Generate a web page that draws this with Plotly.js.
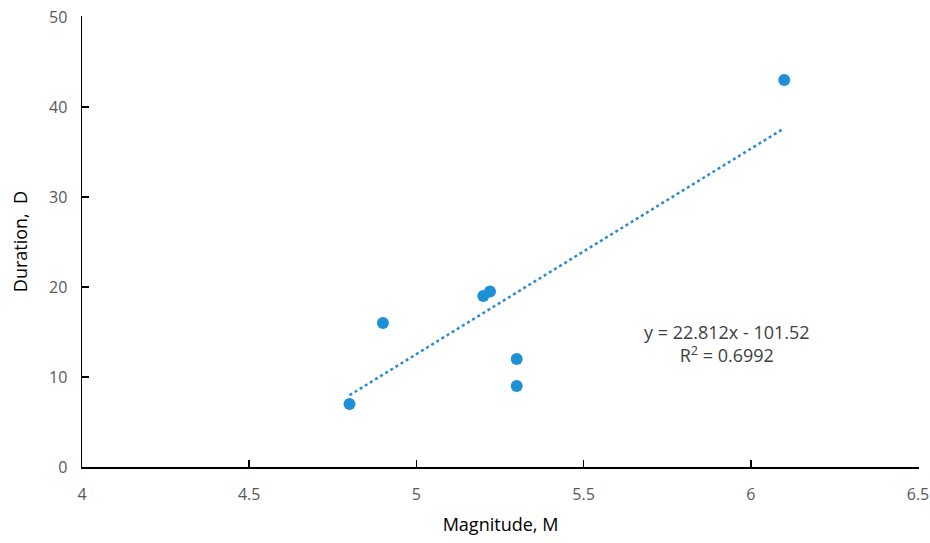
<!DOCTYPE html>
<html><head><meta charset="utf-8">
<script src="https://cdn.plot.ly/plotly-3.0.1.min.js"></script>
<style>html,body{margin:0;padding:0;background:#fff}#chart{width:930px;height:543px}</style>
</head><body><div id="chart"></div>
<script>
const magnitude = [4.8, 4.9, 5.2, 5.22, 5.3, 5.3, 6.1];
const duration = [7, 16, 19, 19.5, 12, 9, 43];
const trendSlope = 22.812;
const trendIntercept = -101.52;
const rSquared = 0.6992;
const xTicks = [4, 4.5, 5, 5.5, 6, 6.5];
const yTicks = [0, 10, 20, 30, 40, 50];

const xMin = Math.min(...magnitude), xMax = Math.max(...magnitude);
const trendX = [xMin, xMax];
const trendY = trendX.map(x => trendSlope * x + trendIntercept);

const blue = '#1E90D6';
const fam = 'Open Sans, Noto Sans, sans-serif';
const data = [
  {x: trendX, y: trendY, type: 'scatter', mode: 'lines',
   line: {color: '#2A8AD2', width: 2.5, dash: 'dot'}, hoverinfo: 'skip'},
  {x: magnitude, y: duration, type: 'scatter', mode: 'markers',
   marker: {color: blue, size: 12}}
];
const tickFont = {family: fam, size: 16, color: '#595959'};
const layout = {
  width: 930, height: 543,
  margin: {l: 82, r: 11, t: 16, b: 76},
  paper_bgcolor: '#fff', plot_bgcolor: '#fff',
  showlegend: false,
  xaxis: {range: [4, 6.503], tickmode: 'array', tickvals: xTicks, ticktext: xTicks.map(String),
    showgrid: false, zeroline: false, showline: true, linecolor: '#000', linewidth: 1.5,
    ticks: 'inside', ticklen: 7, tickcolor: '#000', tickwidth: 1.5,
    tickfont: tickFont, ticklabelstandoff: 12,
    title: {text: 'Magnitude, M', font: {family: fam, size: 18, color: '#000'}, standoff: 14}},
  yaxis: {range: [0, 50.1], tickmode: 'array', tickvals: yTicks, ticktext: yTicks.map(String),
    showgrid: false, zeroline: false, showline: true, linecolor: '#000', linewidth: 1.5,
    ticks: 'inside', ticklen: 7, tickcolor: '#000', tickwidth: 1.5,
    tickfont: tickFont, ticklabelstandoff: 10,
    title: {text: 'Duration,  D', font: {family: fam, size: 18, color: '#000'}, standoff: 16}},
  annotations: [{
    x: 5.93, y: 13.7, xref: 'x', yref: 'y', showarrow: false, align: 'center',
    text: 'y = ' + trendSlope.toFixed(3) + 'x - ' + Math.abs(trendIntercept).toFixed(2) + '<br>R<sup>2</sup> = ' + rSquared.toFixed(4),
    font: {family: fam, size: 18, color: '#404040'}
  }]
};
Plotly.newPlot('chart', data, layout, {displayModeBar: false, staticPlot: true});
</script></body></html>
